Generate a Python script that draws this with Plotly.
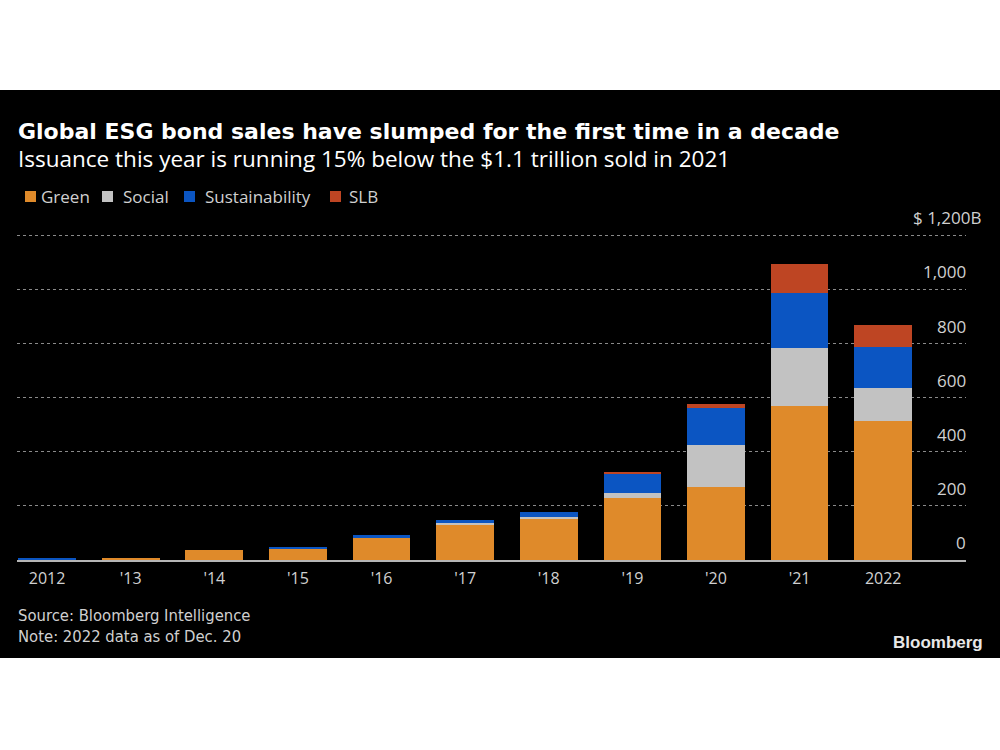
import plotly.graph_objects as go

years = ["2012", "'13", "'14", "'15", "'16", "'17", "'18", "'19", "'20", "'21", "2022"]
green = [1, 9, 37, 42, 82, 130, 150, 231, 271, 571, 512]
social = [0, 0, 0, 1, 1, 7, 10, 17, 153, 212, 124]
sustainability = [3, 0, 0, 3, 10, 10, 16, 73, 139, 205, 151]
slb = [0, 0, 0, 0, 0, 0, 0, 4, 13, 107, 81]

series_names = ["Green", "Social", "Sustainability", "SLB"]
series_values = [green, social, sustainability, slb]
series_colors = ["#DF8A2A", "#C2C2C2", "#0B55C2", "#BE4523"]

y_tick_values = [0, 200, 400, 600, 800, 1000, 1200]
y_tick_labels = ["0", "200", "400", "600", "800", "1,000", "$ 1,200B"]

FONT = "Open Sans, DejaVu Sans, sans-serif"
BOLD = "DejaVu Sans, Open Sans, sans-serif"
NARROW = "Liberation Sans Narrow, DejaVu Sans Condensed, sans-serif"

x = list(range(len(years)))
fig = go.Figure()
for name, vals, col in zip(series_names, series_values, series_colors):
    fig.add_trace(go.Bar(x=x, y=vals, name=name, showlegend=False,
                         marker=dict(color=col, line=dict(width=0))))

W, H = 1000, 750
L, R, T, B = 17, 34, 234, 190
pw, ph = W - L - R, H - T - B

def px_x(p):
    return (p - L) / pw

def px_y(p):
    return (H - B - p) / ph

shapes = [dict(type="rect", xref="paper", yref="paper", x0=px_x(0), x1=px_x(1000),
               y0=px_y(658), y1=px_y(90), fillcolor="black", line=dict(width=0), layer="below")]

# legend: squares + labels
legend_sq_x = [25, 102, 184, 330]
legend_tx_x = [40, 122, 204, 348]
annotations = []
for name, col, sx, tx in zip(series_names, series_colors, legend_sq_x, legend_tx_x):
    shapes.append(dict(type="rect", xref="paper", yref="paper", x0=px_x(sx), x1=px_x(sx + 11),
                       y0=px_y(202), y1=px_y(191), fillcolor=col, line=dict(width=0)))
    annotations.append(dict(x=px_x(tx - 1), y=px_y(196), xref="paper", yref="paper",
                            xanchor="left", yanchor="middle", text=name, showarrow=False,
                            font=dict(size=17, color="#D0D0D0", family=FONT)))

fig.update_layout(
    width=W, height=H,
    margin=dict(l=L, r=R, t=T, b=B, pad=0),
    barmode="stack", bargap=0.31,
    paper_bgcolor="white", plot_bgcolor="black",
    font=dict(family=FONT, color="#CFCFCF", size=16),
    showlegend=False,
    xaxis=dict(range=[-0.36, 10.99], tickmode="array", tickvals=x, ticktext=years,
               showgrid=False, showline=True, linecolor="#B5B5B5", linewidth=2,
               ticks="", ticklabelstandoff=3, tickfont=dict(size=16, color="#D0D0D0"),
               zeroline=False, fixedrange=True),
    yaxis=dict(range=[0, 1205], tickvals=y_tick_values, showticklabels=False,
               showgrid=True, gridcolor="#8A8A8A", griddash="dot", gridwidth=1,
               zeroline=False, fixedrange=True),
    shapes=shapes,
)

for v, lab in zip(y_tick_values, y_tick_labels):
    annotations.append(dict(x=px_x(983 if v == 1200 else 968), xref="paper", y=v, yref="y",
                            text=lab, showarrow=False, xanchor="right", yanchor="bottom",
                            yshift=4, font=dict(size=17, color="#D0D0D0")))
annotations += [
    dict(x=px_x(16), y=px_y(131), xref="paper", yref="paper", xanchor="left", yanchor="middle",
         text="<b>Global ESG bond sales have slumped for the first time in a decade</b>",
         showarrow=False, font=dict(size=22, color="white", family=BOLD)),
    dict(x=px_x(16), y=px_y(158), xref="paper", yref="paper", xanchor="left", yanchor="middle",
         text="Issuance this year is running 15% below the $1.1 trillion sold in 2021",
         showarrow=False, font=dict(size=22.5, color="white", family=FONT)),
    dict(x=px_x(16), y=px_y(626), xref="paper", yref="paper", xanchor="left", yanchor="middle",
         align="left",
         text="Source: Bloomberg Intelligence<br>Note: 2022 data as of Dec. 20", showarrow=False,
         font=dict(size=16.5, color="#D0D0D0", family=NARROW)),
    dict(x=px_x(985), y=px_y(642), xref="paper", yref="paper", xanchor="right", yanchor="middle",
         text="<b>Bloomberg</b>", showarrow=False,
         font=dict(size=17, color="#E8E8E8", family="Liberation Sans, sans-serif")),
]
fig.update_layout(annotations=annotations)

fig.write_html("out.html", config={"displayModeBar": False},
               post_script="document.body.style.margin='0px';")
